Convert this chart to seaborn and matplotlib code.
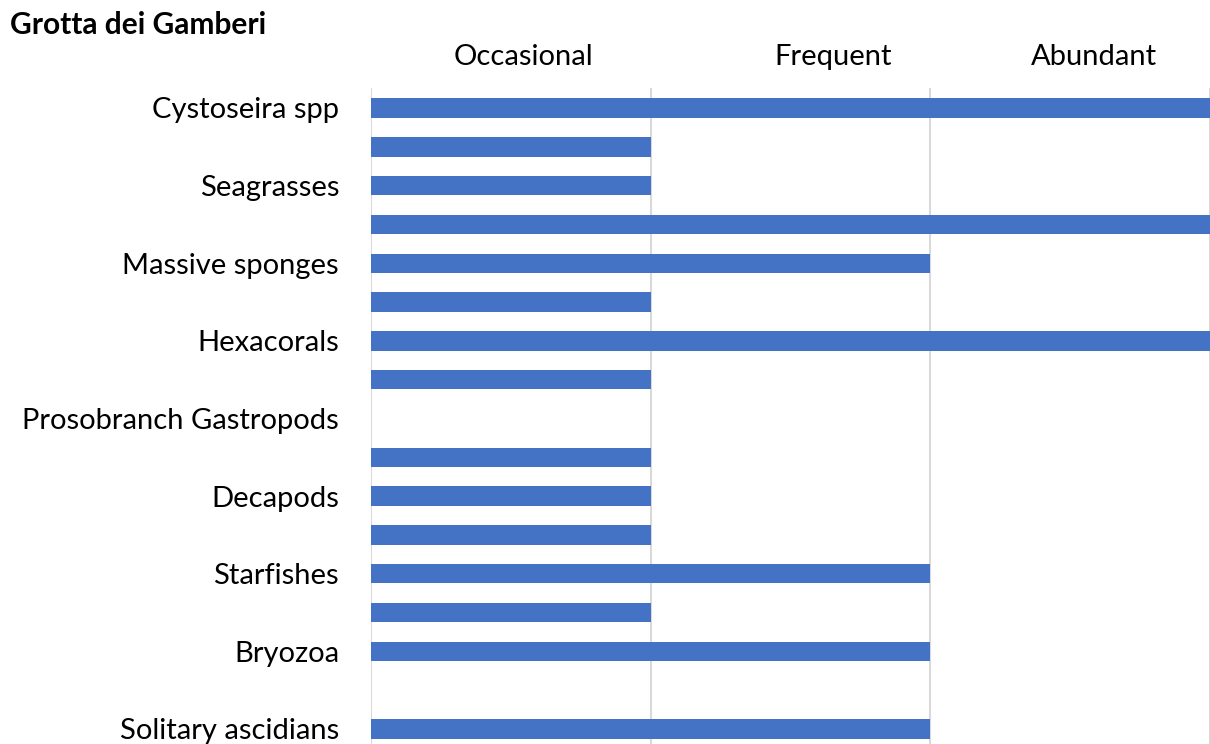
import matplotlib
matplotlib.use("Agg")
import matplotlib.pyplot as plt
import seaborn as sns
import pandas as pd

# Abundance classes: 0 = absent, 1 = occasional, 2 = frequent, 3 = abundant
row_labels = [
    "Cystoseira spp", "", "Seagrasses", "", "Massive sponges", "",
    "Hexacorals", "", "Prosobranch Gastropods", "", "Decapods", "",
    "Starfishes", "", "Bryozoa", "", "Solitary ascidians",
]
abundance = [3, 1, 1, 3, 2, 1, 3, 1, 0, 1, 1, 1, 2, 1, 2, 0, 2]
class_names = ["Occasional", "Frequent", "Abundant"]
title = "Grotta dei Gamberi"

BAR_COLOR = "#4472C4"
GRID_COLOR = "#D9D9D9"

sns.set_theme(style="white")
plt.rcParams["font.family"] = ["Lato", "DejaVu Sans"]

df = pd.DataFrame({"row": list(range(len(abundance))), "abundance": abundance})

fig = plt.figure(figsize=(12.10, 7.44), dpi=100)
ax = fig.add_axes([0.3066, 0.0, 0.6934, 0.8817])

sns.barplot(data=df, x="abundance", y="row", orient="h",
            order=list(range(len(abundance))), color=BAR_COLOR,
            saturation=1, width=0.5, linewidth=0, edgecolor="none",
            ax=ax, zorder=3)

ax.set_xlim(0, 3)
ax.set_ylim(len(abundance) - 0.61, -0.515)

# vertical class boundaries
for xv in range(0, 4):
    ax.axvline(xv, color=GRID_COLOR, lw=1.5, zorder=1)

for s in ax.spines.values():
    s.set_visible(False)

ax.set_xticks([])
ax.set_xlabel("")
ax.set_ylabel("")
ax.set_yticks(range(len(row_labels)))
ax.set_yticklabels(row_labels, fontsize=21, color="#000000")
ax.tick_params(axis="y", length=0, pad=23)

# class headings above the plot
class_x = [0.546, 1.654, 2.586]
for name, xv in zip(class_names, class_x):
    ax.text(xv, -1.31, name, ha="center", va="center", fontsize=21,
            color="#000000", transform=ax.transData, clip_on=False)

fig.text(10 / 1210, 1 - 25 / 744, title, ha="left", va="center",
         fontsize=21.5, fontweight="bold", color="#000000")

fig.savefig("out.png", dpi=100)
